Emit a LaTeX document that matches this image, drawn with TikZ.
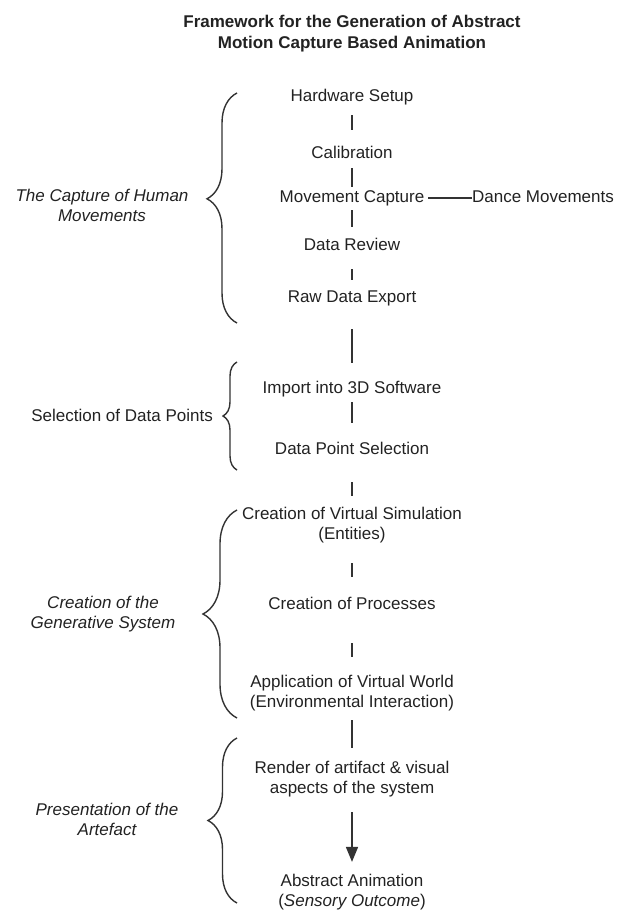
\documentclass[tikz,border=0pt]{standalone}
\usepackage{fontspec}
\setmainfont{Liberation Sans}
\usetikzlibrary{arrows.meta,decorations.pathreplacing}
\definecolor{ink}{HTML}{222222}
\definecolor{rulegray}{HTML}{333333}
\begin{document}
\begin{tikzpicture}[x=1pt,y=-1pt,
  stepbox/.style={font=\fontsize{17}{20}\selectfont, align=center, inner sep=0pt, text=ink},
  onerow/.style={stepbox, text height=12.5pt, text depth=3.5pt},
  phase/.style={font=\fontsize{17}{20}\selectfont\itshape, align=center, inner sep=0pt, text=ink},
  heading/.style={font=\fontsize{17}{21}\selectfont\bfseries, align=center, inner sep=0pt, text=ink},
  link/.style={draw=rulegray, line width=1.6pt},
  grouping/.style={draw=rulegray, line width=1.4pt, decorate, decoration={brace, amplitude=#1}}]

\useasboundingbox (0,0) rectangle (619,912);

% heading
\node[heading] (title) at (352,34) {Framework for the Generation of Abstract\\Motion Capture Based Animation};

% process steps
\node[onerow] (hw)   at (352,97)  {Hardware Setup};
\node[onerow] (cal)  at (352,154) {Calibration};
\node[onerow] (mc)   at (352,198) {Movement Capture};
\node[onerow] (dm)   at (543,198) {Dance Movements};
\node[onerow] (dr)   at (352,246) {Data Review};
\node[onerow] (rde)  at (352,298) {Raw Data Export};
\node[onerow] (imp)  at (352,389) {Import into 3D Software};
\node[onerow] (dps)  at (352,450) {Data Point Selection};
\node[stepbox] (cvs) at (352,525) {Creation of Virtual Simulation\\(Entities)};
\node[onerow] (cop)  at (352,605) {Creation of Processes};
\node[stepbox] (avw) at (352,693) {Application of Virtual World\\(Environmental Interaction)};
\node[stepbox] (ren) at (352,779) {Render of artifact \& visual\\aspects of the system};
\node[stepbox] (aa)  at (352,892) {Abstract Animation\\(\textit{Sensory Outcome})};

% phase labels
\node[phase] (p1) at (102,205) {The Capture of Human\\Movements};
\node[stepbox, anchor=east] (p2) at (213,415) {Selection of Data Points};
\node[phase] (p3) at (103,614) {Creation of the\\Generative System};
\node[phase] (p4) at (107,819.5) {Presentation of the\\Artefact};

% connectors
\draw[link, shorten <=10pt, shorten >=16pt] (hw) -- (cal);
\draw[link, shorten <=6pt, shorten >=3pt] (cal) -- (mc);
\draw[link, shorten <=4pt, shorten >=11pt] (mc) -- (dr);
\draw[link, shorten <=15pt, shorten >=10pt] (dr) -- (rde);
\draw[link, shorten <=4pt] (mc) -- (dm);
\draw[link, shorten <=23pt, shorten >=18pt] (rde) -- (imp);
\draw[link, shorten <=5pt, shorten >=19pt] (imp) -- (dps);
\draw[link, shorten <=24pt, shorten >=11pt] (dps) -- (cvs);
\draw[link, shorten <=20pt, shorten >=20pt] (cvs) -- (cop);
\draw[link, shorten <=30pt, shorten >=18pt] (cop) -- (avw);
\draw[link, shorten <=9pt, shorten >=13pt] (avw) -- (ren);
\draw[link, shorten <=15pt, shorten >=12pt, -{Triangle[length=15pt,width=12pt]}] (ren) -- (aa);

% phase braces
\draw[grouping=30pt, decoration={aspect=0.54}] (237,323) -- (237,93);
\draw[grouping=14pt] (237,470) -- (237,362);
\draw[grouping=34pt] (237,718) -- (237,510);
\draw[grouping=29pt] (237,903) -- (237,738);

\end{tikzpicture}
\end{document}
